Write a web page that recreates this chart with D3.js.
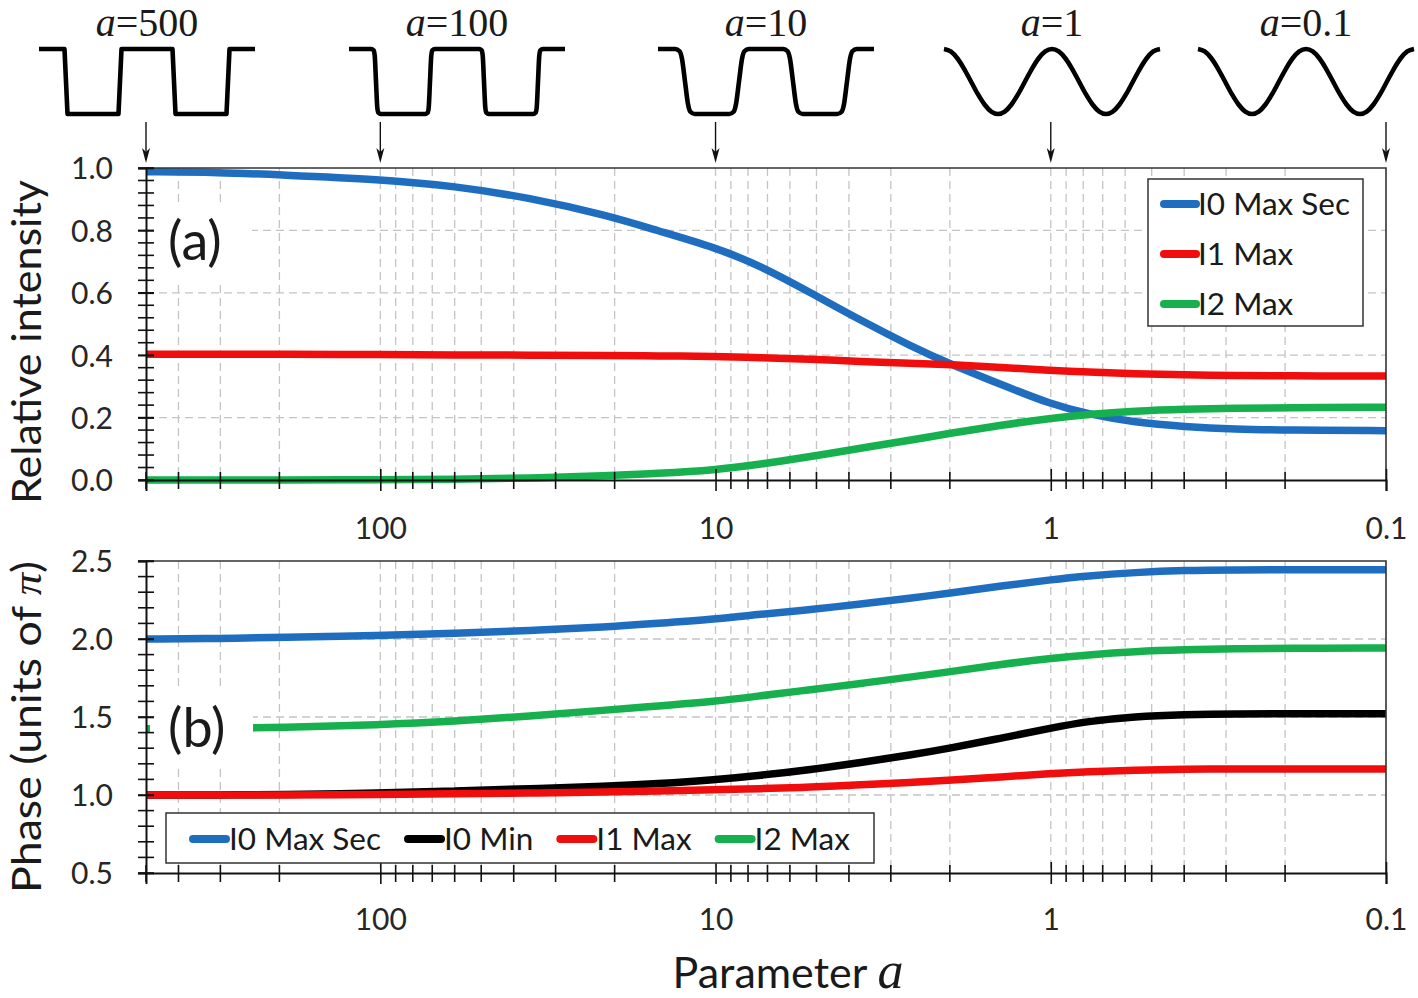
<!DOCTYPE html>
<html>
<head>
<meta charset="utf-8">
<script src="https://cdn.jsdelivr.net/npm/d3@7"></script>
<style>
  html, body { margin: 0; padding: 0; background: #fff; }
  svg { display: block; }
</style>
</head>
<body>
<svg id="chart" width="1418" height="998"></svg>
<script>
// ---------------- DATA ----------------
const aValues = [500, 300, 200, 100, 60, 36, 21, 15, 10, 7.4, 5.2, 3.7, 2.6, 2.0, 1.4, 1.0, 0.78, 0.56, 0.4, 0.28, 0.2, 0.1];

// Panel (a): relative intensity
const intI0MaxSec = [0.988, 0.986, 0.978, 0.964, 0.942, 0.905, 0.848, 0.800, 0.745, 0.688, 0.600, 0.512, 0.428, 0.372, 0.305, 0.243, 0.212, 0.184, 0.171, 0.163, 0.160, 0.158];
const intI1Max    = [0.403, 0.403, 0.403, 0.402, 0.401, 0.400, 0.399, 0.398, 0.396, 0.392, 0.387, 0.380, 0.374, 0.370, 0.361, 0.351, 0.346, 0.340, 0.337, 0.335, 0.334, 0.333];
const intI2Max    = [0.0, 0.0, 0.0, 0.001, 0.002, 0.006, 0.014, 0.021, 0.032, 0.050, 0.075, 0.102, 0.128, 0.150, 0.176, 0.198, 0.210, 0.221, 0.227, 0.230, 0.232, 0.233];

// Panel (b): phase (units of pi)
const phI0MaxSec = [2.0, 2.003, 2.01, 2.023, 2.037, 2.053, 2.078, 2.10, 2.128, 2.158, 2.188, 2.225, 2.262, 2.295, 2.34, 2.38, 2.405, 2.427, 2.44, 2.443, 2.444, 2.444];
const phI0Min    = [1.0, 1.0, 1.003, 1.012, 1.026, 1.04, 1.055, 1.072, 1.098, 1.125, 1.163, 1.207, 1.258, 1.300, 1.365, 1.429, 1.472, 1.504, 1.515, 1.52, 1.521, 1.521];
const phI1Max    = [1.0, 1.0, 1.0, 1.003, 1.008, 1.012, 1.02, 1.026, 1.034, 1.04, 1.05, 1.066, 1.080, 1.095, 1.115, 1.138, 1.150, 1.160, 1.165, 1.167, 1.167, 1.167];
const phI2Max    = [1.425, 1.427, 1.432, 1.45, 1.472, 1.505, 1.545, 1.57, 1.60, 1.635, 1.675, 1.715, 1.757, 1.790, 1.838, 1.876, 1.898, 1.92, 1.931, 1.938, 1.941, 1.942];

// Axis ticks / labels
const xMajorTicks = [100, 10, 1, 0.1];
const xTickLabels = ["100", "10", "1", "0.1"];
const yTicksA = [0.0, 0.2, 0.4, 0.6, 0.8, 1.0];
const yTickLabelsA = ["0.0", "0.2", "0.4", "0.6", "0.8", "1.0"];
const yTicksB = [0.5, 1.0, 1.5, 2.0, 2.5];
const yTickLabelsB = ["0.5", "1.0", "1.5", "2.0", "2.5"];

// Legends
const legendA = ["I0 Max Sec", "I1 Max", "I2 Max"];
const legendB = ["I0 Max Sec", "I0 Min", "I1 Max", "I2 Max"];

// Waveform illustrations (a values and half-period profiles [phase, level])
const waveA = ["500", "100", "10", "1", "0.1"];
const waveArrowA = [500, 100, 10, 1, 0.1];
const profile500 = [[0, 1], [0.236, 1], [0.264, -1], [0.5, -1]];
const profile100 = [[0, 1], [0.205, 1], [0.228, 0.96], [0.238, 0.8], [0.25, 0], [0.262, -0.8], [0.272, -0.96], [0.295, -1], [0.5, -1]];
const profile10  = [[0, 1], [0.16, 1], [0.2, 0.93], [0.222, 0.7], [0.25, 0], [0.278, -0.7], [0.3, -0.93], [0.34, -1], [0.5, -1]];
const profile1   = [[0, 1], [0.0625, 0.924], [0.125, 0.707], [0.1875, 0.383], [0.25, 0], [0.3125, -0.383], [0.375, -0.707], [0.4375, -0.924], [0.5, -1]];
const profile01  = [[0, 1], [0.0625, 0.924], [0.125, 0.707], [0.1875, 0.383], [0.25, 0], [0.3125, -0.383], [0.375, -0.707], [0.4375, -0.924], [0.5, -1]];

// ---------------- STYLE / LAYOUT ----------------
const C = { blue: "#1f6dbf", red: "#f00d0d", green: "#17b04f", black: "#000" };
const FONT = "Lato, 'Open Sans', 'Liberation Sans', sans-serif";
const SERIF = "'Liberation Serif', 'DejaVu Serif', serif";
const L = 146, R = 1386;
const panelA = { top: 168, bottom: 480 };
const panelB = { top: 561, bottom: 873 };

const svg = d3.select("#chart");
svg.append("rect").attr("width", 1418).attr("height", 998).attr("fill", "#fff");

const x = d3.scaleLog().domain([500, 0.1]).range([L, R]);
const yA = d3.scaleLinear().domain([0, 1]).range([panelA.bottom, panelA.top]);
const yB = d3.scaleLinear().domain([0.5, 2.5]).range([panelB.bottom, panelB.top]);

const allXTicks = x.ticks().filter(v => v > 0.1 && v < 500);

function drawPanel(y, yTicks, yLabels, minorStep, series, panel, labelText, labelBox, xLabelPad) {
  const g = svg.append("g");
  // vertical grid
  g.selectAll(".vg").data(allXTicks).join("line")
    .attr("x1", d => x(d)).attr("x2", d => x(d))
    .attr("y1", panel.top).attr("y2", panel.bottom)
    .attr("stroke", "#c4c4c4").attr("stroke-width", 1.3).attr("stroke-dasharray", "8,5");
  // horizontal grid
  g.selectAll(".hg").data(yTicks.slice(1, -1)).join("line")
    .attr("x1", L).attr("x2", R).attr("y1", d => y(d)).attr("y2", d => y(d))
    .attr("stroke", "#c4c4c4").attr("stroke-width", 1.3).attr("stroke-dasharray", "8,5");

  // series lines
  const line = d3.line().x(d => x(d[0])).y(d => y(d[1])).curve(d3.curveBasis);
  series.forEach(s => {
    g.append("path").datum(aValues.map((a, i) => [a, s.values[i]]))
      .attr("d", line).attr("fill", "none").attr("stroke", s.color)
      .attr("stroke-width", 7.5).attr("stroke-linejoin", "round");
  });

  // panel label with white box
  g.append("rect").attr("x", labelBox[0]).attr("y", labelBox[1])
    .attr("width", labelBox[2]).attr("height", labelBox[3]).attr("fill", "#fff");
  g.append("text").attr("x", labelBox[0] + 18).attr("y", labelBox[1] + labelBox[3] - 22)
    .attr("font-family", FONT).attr("font-size", 54).attr("fill", "#1a1a1a").text(labelText);

  // frame (top & right)
  g.append("path").attr("d", `M${L},${panel.top}H${R}V${panel.bottom}`)
    .attr("fill", "none").attr("stroke", "#333").attr("stroke-width", 1.6);

  // minor y ticks (crossing)
  const [d0, d1] = y.domain();
  const minor = d3.range(d0, d1 + 1e-9, minorStep);
  g.selectAll(".ymt").data(minor).join("line")
    .attr("x1", L - 8).attr("x2", L + 8).attr("y1", d => y(d)).attr("y2", d => y(d))
    .attr("stroke", "#111").attr("stroke-width", 1.6);

  // y axis
  const ay = g.append("g").attr("transform", `translate(${L},0)`)
    .call(d3.axisLeft(y).tickValues(yTicks).tickFormat((d, i) => yLabels[i]).tickSize(8).tickPadding(25));
  ay.select(".domain").attr("stroke", "#111").attr("stroke-width", 2);
  ay.selectAll(".tick line").attr("x1", 8).attr("stroke", "#111").attr("stroke-width", 1.6);
  ay.selectAll(".tick text").attr("font-family", FONT).attr("font-size", 30).attr("fill", "#262626").attr("dy", "0.36em");

  // minor x ticks (crossing)
  g.selectAll(".xmt").data(allXTicks.filter(v => !xMajorTicks.includes(v)).concat([500])).join("line")
    .attr("x1", d => x(d)).attr("x2", d => x(d))
    .attr("y1", panel.bottom - 8).attr("y2", panel.bottom + 9)
    .attr("stroke", "#111").attr("stroke-width", 1.6);

  // x axis
  const ax = g.append("g").attr("transform", `translate(0,${panel.bottom})`)
    .call(d3.axisBottom(x).tickValues(xMajorTicks).tickFormat((d, i) => xTickLabels[i]).tickSize(11).tickPadding(xLabelPad));
  ax.select(".domain").attr("stroke", "#111").attr("stroke-width", 2);
  ax.selectAll(".tick line").attr("y1", -11).attr("stroke", "#111").attr("stroke-width", 1.6);
  ax.selectAll(".tick text").attr("font-family", FONT).attr("font-size", 30).attr("fill", "#262626");
  return g;
}

drawPanel(yA, yTicksA, yTickLabelsA, 0.04, [
  { values: intI0MaxSec, color: C.blue },
  { values: intI1Max, color: C.red },
  { values: intI2Max, color: C.green }
], panelA, "(a)", [150, 202, 102, 80], 27);

drawPanel(yB, yTicksB, yTickLabelsB, 0.1, [
  { values: phI0MaxSec, color: C.blue },
  { values: phI2Max, color: C.green },
  { values: phI0Min, color: C.black },
  { values: phI1Max, color: C.red }
], panelB, "(b)", [150, 689, 103, 80], 25);

// ---------------- LEGENDS ----------------
// Legend (a): vertical
const lgA = svg.append("g");
lgA.append("rect").attr("x", 1148).attr("y", 179).attr("width", 215).attr("height", 147)
  .attr("fill", "#fff").attr("stroke", "#333").attr("stroke-width", 1.5);
const colorsA = [C.blue, C.red, C.green];
legendA.forEach((name, i) => {
  const yy = 204 + i * 50;
  lgA.append("line").attr("x1", 1164).attr("x2", 1196).attr("y1", yy).attr("y2", yy)
    .attr("stroke", colorsA[i]).attr("stroke-width", 8).attr("stroke-linecap", "round");
  lgA.append("text").attr("x", 1198).attr("y", yy + 11)
    .attr("font-family", FONT).attr("font-size", 31.5).attr("fill", "#1a1a1a").text(name);
});

// Legend (b): horizontal
const lgB = svg.append("g");
lgB.append("rect").attr("x", 166).attr("y", 813).attr("width", 708).attr("height", 50)
  .attr("fill", "#fff").attr("stroke", "#333").attr("stroke-width", 1.5);
const colorsB = [C.blue, C.black, C.red, C.green];
let lx = 193;
legendB.forEach((name, i) => {
  lgB.append("line").attr("x1", lx).attr("x2", lx + 33).attr("y1", 839).attr("y2", 839)
    .attr("stroke", colorsB[i]).attr("stroke-width", 8).attr("stroke-linecap", "round");
  const t = lgB.append("text").attr("x", lx + 36).attr("y", 850)
    .attr("font-family", FONT).attr("font-size", 31.5).attr("fill", "#1a1a1a").text(name);
  lx = lx + 36 + t.node().getComputedTextLength() + 27;
});

// ---------------- AXIS TITLES ----------------
svg.append("text").attr("transform", "translate(41,342) rotate(-90)")
  .attr("text-anchor", "middle").attr("font-family", FONT).attr("font-size", 41).attr("fill", "#1a1a1a")
  .attr("textLength", 324).attr("lengthAdjust", "spacingAndGlyphs")
  .text("Relative intensity");

const ph = svg.append("text").attr("transform", "translate(41,727) rotate(-90)")
  .attr("text-anchor", "middle").attr("font-family", FONT).attr("font-size", 41).attr("fill", "#1a1a1a")
  .attr("textLength", 332).attr("lengthAdjust", "spacingAndGlyphs");
ph.append("tspan").text("Phase (units of ");
ph.append("tspan").attr("font-family", SERIF).attr("font-style", "italic").text("π");
ph.append("tspan").text(")");

const xt = svg.append("text").attr("x", 788).attr("y", 988).attr("text-anchor", "middle")
  .attr("font-family", FONT).attr("font-size", 43).attr("fill", "#1a1a1a");
xt.append("tspan").text("Parameter ");
xt.append("tspan").attr("font-family", SERIF).attr("font-style", "italic").attr("font-size", 52).text("a");

// ---------------- WAVEFORMS ----------------
const waveCenters = [147, 457, 766, 1052, 1306];
const profiles = [profile500, profile100, profile10, profile1, profile01];
const period = 108, waveMid = 81.5, waveAmp = 32.5;
const wg = svg.append("g");
profiles.forEach((prof, k) => {
  const pts = [];
  for (let p = 0; p < 2; p++) {
    prof.forEach(([t, v], j) => { if (!(p > 0 && j === 0)) pts.push([p + t, v]); });
    prof.slice().reverse().forEach(([t, v], j) => { if (j > 0) pts.push([p + 1 - t, v]); });
  }
  const x0 = waveCenters[k] - period;
  const wl = d3.line().x(d => x0 + d[0] * period).y(d => waveMid - d[1] * waveAmp)
    .curve(k === 0 ? d3.curveLinear : d3.curveMonotoneX);
  wg.append("path").datum(pts).attr("d", wl).attr("fill", "none")
    .attr("stroke", "#000").attr("stroke-width", 4.6).attr("stroke-linejoin", "round");
  const lab = wg.append("text").attr("x", waveCenters[k]).attr("y", 36).attr("text-anchor", "middle")
    .attr("font-family", SERIF).attr("font-size", 40).attr("fill", "#1a1a1a");
  lab.append("tspan").attr("font-style", "italic").text("a");
  lab.append("tspan").text("=" + waveA[k]);
});

// arrows
waveArrowA.forEach(a => {
  const ax0 = x(a);
  wg.append("line").attr("x1", ax0).attr("x2", ax0).attr("y1", 122).attr("y2", 158)
    .attr("stroke", "#111").attr("stroke-width", 1.4);
  wg.append("path").attr("d", `M${ax0 - 4},148 L${ax0},163 L${ax0 + 4},148 L${ax0},152 Z`).attr("fill", "#111");
});
</script>
</body>
</html>
